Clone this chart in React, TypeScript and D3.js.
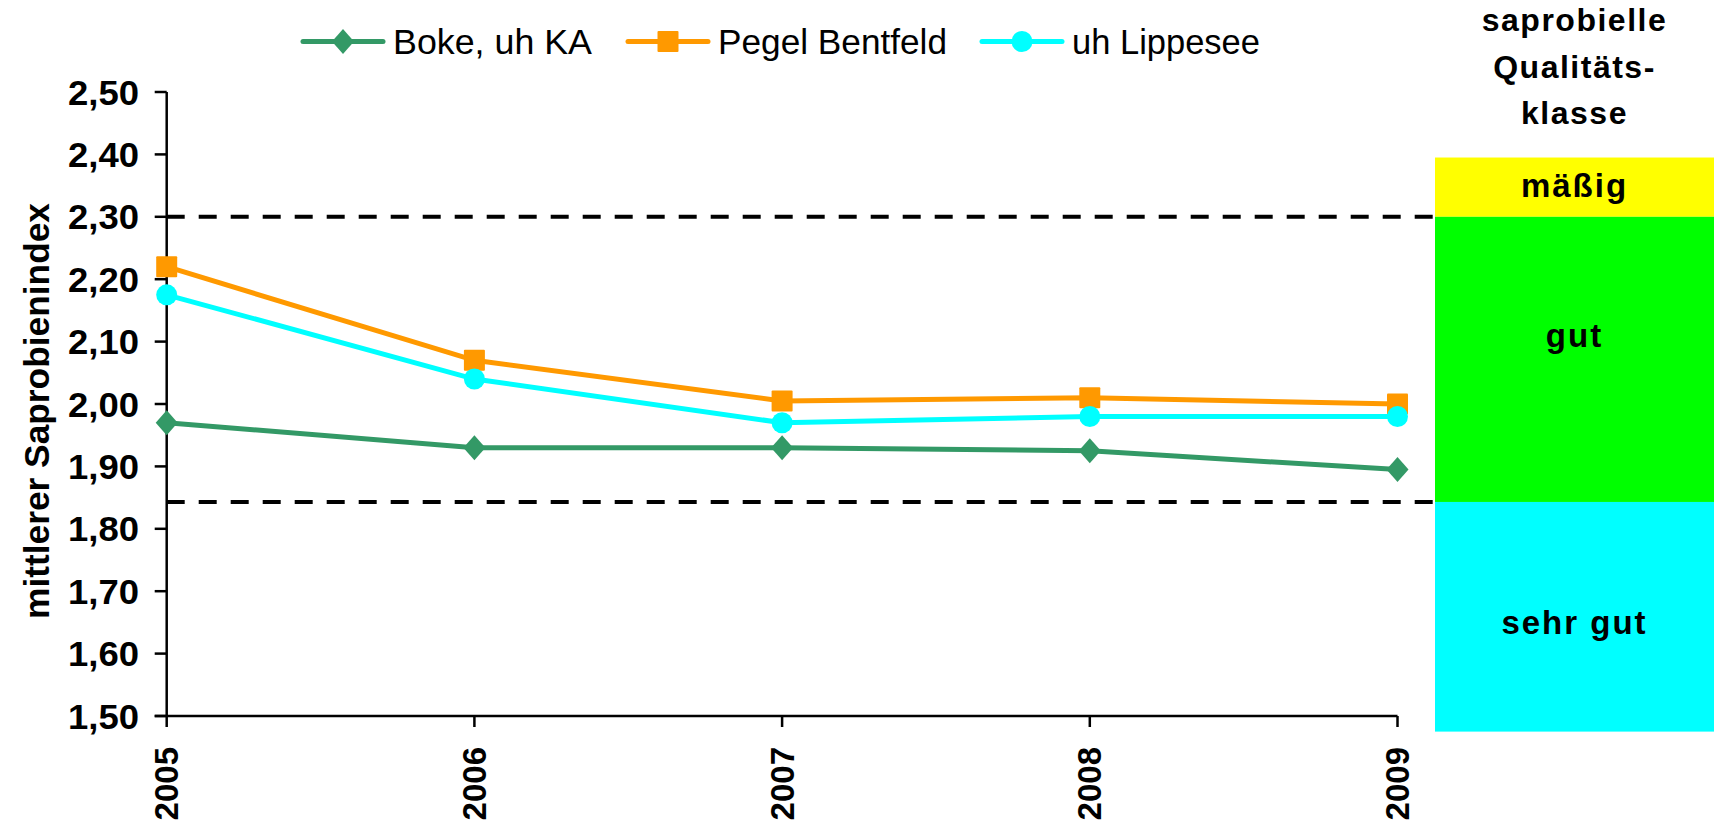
import { scaleLinear, scalePoint, line } from 'd3';

const years = ['2005', '2006', '2007', '2008', '2009'];
const bokeValues = [1.97, 1.93, 1.93, 1.925, 1.895];
const pegelValues = [2.22, 2.07, 2.005, 2.01, 2.0];
const lippeseeValues = [2.175, 2.04, 1.97, 1.98, 1.98];
const yTicks = [1.5, 1.6, 1.7, 1.8, 1.9, 2.0, 2.1, 2.2, 2.3, 2.4, 2.5];
const boundaries = [2.3, 1.843];

// quality classes for the panel on the right (top, bottom in index units)
const classes = [
  { name: 'mäßig', top: 2.395, bottom: 2.3, color: '#FFFF00', labelAt: 2.35 },
  { name: 'gut', top: 2.3, bottom: 1.843, color: '#00FF00', labelAt: 2.11 },
  { name: 'sehr gut', top: 1.843, bottom: 1.475, color: '#00FFFF', labelAt: 1.65 },
];

const series = [
  { name: 'Boke, uh KA', values: bokeValues, color: '#339966', marker: 'diamond' },
  { name: 'Pegel Bentfeld', values: pegelValues, color: '#FF9900', marker: 'square' },
  { name: 'uh Lippesee', values: lippeseeValues, color: '#00FFFF', marker: 'circle' },
];

const W = 1720;
const H = 829;
const font = '"Liberation Sans", Arial, sans-serif';

const x = scalePoint<string>().domain(years).range([166.7, 1397.5]);
const y = scaleLinear().domain([1.5, 2.5]).range([716, 92]);

const fmt = (v: number) => v.toFixed(2).replace('.', ',');

const Marker = ({ type, cx, cy, color }: { type: string; cx: number; cy: number; color: string }) => {
  if (type === 'diamond') {
    return (
      <path
        d={`M${cx},${cy - 12.5} L${cx + 11},${cy} L${cx},${cy + 12.5} L${cx - 11},${cy} Z`}
        fill={color}
      />
    );
  }
  if (type === 'square') {
    return <rect x={cx - 10.5} y={cy - 10.5} width={21} height={21} rx={1} fill={color} />;
  }
  return <circle cx={cx} cy={cy} r={10.5} fill={color} />;
};

const App = () => {
  const lineGen = line<number>()
    .x((_, i) => x(years[i])!)
    .y((d) => y(d));

  const panelX0 = 1435;
  const panelX1 = 1714;
  const panelCx = (panelX0 + panelX1) / 2;

  // legend sample start, text start, text width
  const legendItems = [
    { x0: 303, textX: 393, len: 199 },
    { x0: 628, textX: 718, len: 229 },
    { x0: 982, textX: 1072, len: 188 },
  ];

  return (
    <svg
      width={W}
      height={H}
      style={{ position: 'absolute', left: 0, top: 0, background: '#fff' }}
      fontFamily={font}
    >
      {/* class panel */}
      {classes.map((c) => (
        <g key={c.name}>
          <rect
            x={panelX0}
            y={y(c.top)}
            width={panelX1 - panelX0}
            height={y(c.bottom) - y(c.top)}
            fill={c.color}
          />
          <text
            x={panelCx}
            y={y(c.labelAt)}
            textAnchor="middle"
            dominantBaseline="central"
            fontWeight="bold"
            fontSize={33}
            letterSpacing={2}
          >
            {c.name}
          </text>
        </g>
      ))}
      {['saprobielle', 'Qualitäts-', 'klasse'].map((t, i) => (
        <text
          key={t}
          x={panelCx}
          y={20 + i * 46.5}
          textAnchor="middle"
          dominantBaseline="central"
          fontWeight="bold"
          fontSize={32}
          letterSpacing={1.5}
        >
          {t}
        </text>
      ))}

      {/* class boundaries */}
      {boundaries.map((b) => (
        <line
          key={b}
          x1={x.range()[0]}
          x2={panelX0}
          y1={y(b)}
          y2={y(b)}
          stroke="#000"
          strokeWidth={4}
          strokeDasharray="18 14"
        />
      ))}

      {/* y axis */}
      <line x1={x.range()[0]} x2={x.range()[0]} y1={y(2.5)} y2={y(1.5)} stroke="#000" strokeWidth={2.5} />
      {yTicks.map((t) => (
        <g key={t}>
          <line x1={x.range()[0] - 12} x2={x.range()[0]} y1={y(t)} y2={y(t)} stroke="#000" strokeWidth={2.5} />
          <text
            x={68}
            y={y(t)}
            dominantBaseline="central"
            fontWeight="bold"
            fontSize={35}
            textLength={71}
            lengthAdjust="spacingAndGlyphs"
          >
            {fmt(t)}
          </text>
        </g>
      ))}
      <text
        transform={`translate(36,411) rotate(-90)`}
        x={-208}
        dominantBaseline="central"
        fontWeight="bold"
        fontSize={35}
        textLength={416}
        lengthAdjust="spacingAndGlyphs"
      >
        mittlerer Saprobienindex
      </text>

      {/* x axis */}
      <line x1={x.range()[0] - 12} x2={x.range()[1]} y1={y(1.5)} y2={y(1.5)} stroke="#000" strokeWidth={2.5} />
      {years.map((yr) => (
        <g key={yr}>
          <line x1={x(yr)} x2={x(yr)} y1={y(1.5)} y2={y(1.5) + 11} stroke="#000" strokeWidth={2.5} />
          <text
            transform={`translate(${x(yr)},${747}) rotate(-90)`}
            textAnchor="end"
            dominantBaseline="central"
            fontWeight="bold"
            fontSize={33}
          >
            {yr}
          </text>
        </g>
      ))}

      {/* series */}
      {series.map((s) => (
        <g key={s.name}>
          <path d={lineGen(s.values)!} fill="none" stroke={s.color} strokeWidth={5} />
          {s.values.map((v, i) => (
            <Marker key={i} type={s.marker} cx={x(years[i])!} cy={y(v)} color={s.color} />
          ))}
        </g>
      ))}

      {/* legend */}
      {series.map((s, i) => (
        <g key={s.name}>
          <line
            x1={legendItems[i].x0}
            x2={legendItems[i].x0 + 80}
            y1={41.5}
            y2={41.5}
            stroke={s.color}
            strokeWidth={5}
            strokeLinecap="round"
          />
          <Marker type={s.marker} cx={legendItems[i].x0 + 40} cy={41.5} color={s.color} />
          <text
            x={legendItems[i].textX}
            y={41.5}
            dominantBaseline="central"
            fontSize={35}
            textLength={legendItems[i].len}
            lengthAdjust="spacingAndGlyphs"
          >
            {s.name}
          </text>
        </g>
      ))}
    </svg>
  );
};

export default App;
